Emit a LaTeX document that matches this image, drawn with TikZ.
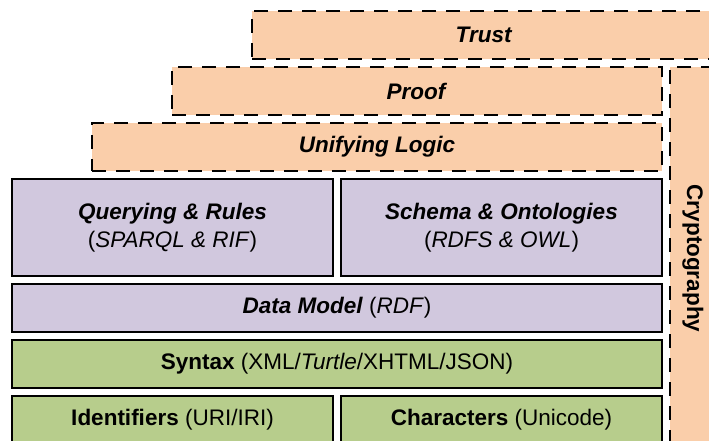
\documentclass[tikz,border=0pt]{standalone}
\usepackage{fontspec}
\setmainfont{Liberation Sans}
\begin{document}
\begin{tikzpicture}[x=1pt,y=-1pt]
\newcommand{\xunit}{1}
\newcommand{\yunit}{1}
\tikzstyle{layer}=[draw,line width=1.9pt,minimum height=48pt,inner sep=0pt,align=center,font=\fontsize{22.5}{28}\selectfont]
\tikzstyle{future}=[layer,dash pattern=on 14pt off 10pt]
\tikzstyle{current}=[layer]
\definecolor{trustcolor}{RGB}{250,206,170}
\definecolor{rdfcolor}{RGB}{209,200,222}
\definecolor{basecolor}{RGB}{183,205,140}
\tikzstyle{upper}=[fill=trustcolor]
\tikzstyle{middle}=[fill=rdfcolor]
\tikzstyle{lower}=[fill=basecolor]
\useasboundingbox (0,0) rectangle (709,440);
\clip (0,0) rectangle (709,440);
\node[future,upper,minimum width=464pt] (trust) at (\xunit*484,\yunit*35) {\textbf{\textit{Trust}}};
\node[future,upper,minimum width=490pt] (proof) at (\xunit*417,\yunit*91) {\textbf{\textit{Proof}}};
\node[future,upper,minimum width=570pt] (logic) at (\xunit*377,\yunit*147) {\textbf{\textit{Unifying Logic}}};
\node[future,upper,rotate=-90,minimum width=383pt,minimum height=46pt] (crypto) at (\xunit*693,\yunit*258.5) {\textbf{Cryptography}};
\node[current,middle,minimum width=321pt,minimum height=97pt] (query) at (\xunit*172.5,\yunit*227.5) {\textbf{\textit{Querying \& Rules}}\\(\textit{SPARQL \& RIF})};
\node[current,middle,minimum width=321pt,minimum height=97pt] (schema) at (\xunit*501.5,\yunit*227.5) {\textbf{\textit{Schema \& Ontologies}}\\(\textit{RDFS \& OWL})};
\node[current,middle,minimum width=650pt] (model) at (\xunit*337,\yunit*308) {\textbf{\textit{Data Model}} (\textit{RDF})};
\node[current,lower,minimum width=650pt] (syntax) at (\xunit*337,\yunit*364) {\textbf{Syntax} (XML/\textit{Turtle}/XHTML/JSON)};
\node[current,lower,minimum width=321pt] (ident) at (\xunit*172.5,\yunit*420) {\textbf{Identifiers} (URI/IRI)};
\node[current,lower,minimum width=321pt] (chars) at (\xunit*501.5,\yunit*420) {\textbf{Characters} (Unicode)};
\end{tikzpicture}
\end{document}
